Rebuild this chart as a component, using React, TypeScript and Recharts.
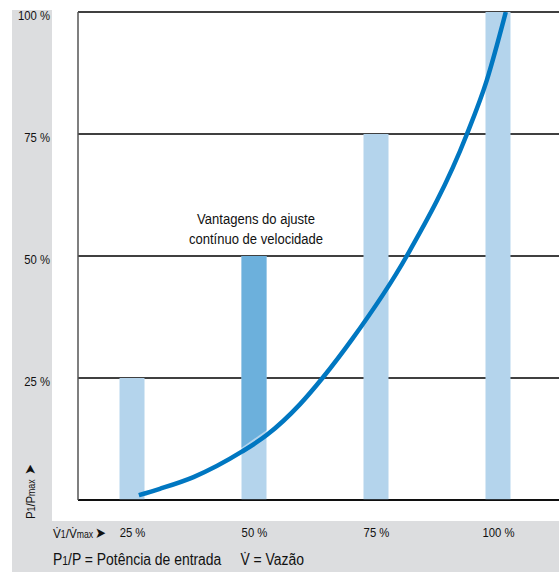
import React from 'react';
import {
  ComposedChart,
  Bar,
  Line,
  XAxis,
  YAxis,
  CartesianGrid,
} from 'recharts';

// Flow steps (V1/Vmax, %) and the power demand drawn as bars (P1/Pmax, %)
const flowSteps = [25, 50, 75, 100];
const barPower = [25, 50, 75, 100];
// Curve power at the left / right edge of the highlighted bar (floor of the saving area)
const savingFloorLeft = [0, 10.7, 0, 0];
const savingFloorRight = [0, 14.3, 0, 0];
// Which step shows the saving of continuous speed control
const highlighted = [false, true, false, false];

// Power curve with continuous speed adjustment: flow % -> power %
const curveFlow = [26.3, 30.6, 37.5, 47.4, 52.5, 59.3, 64.1, 69.9, 81.2, 93.5, 97.6, 101.5];
const curvePower = [1.0, 2.3, 4.7, 9.9, 13.3, 19.6, 25.2, 32.8, 50, 74.9, 86, 100];

const yTicks = [25, 50, 75, 100];
const xTicks = [25, 50, 75, 100];
const flowDomain: [number, number] = [13.83, 112.4];

const barData = flowSteps.map((f, i) => ({
  flow: f,
  power: barPower[i],
  highlighted: highlighted[i],
  floorL: savingFloorLeft[i],
  floorR: savingFloorRight[i],
}));

const curveData = curveFlow.map((f, i) => ({ flow: f, power: curvePower[i] }));

const FONT = "'Liberation Sans', Arial, sans-serif";
const SQUEEZE = 0.87; // horizontal squeeze for a condensed look
const GREY = '#dcdddf';
const LIGHT = '#b4d4ec';
const DARK = '#6cb0dc';
const CURVE = '#0077c1';
const INK = '#111';

const pct = (v: number) => `${v} %`;

// Bar shape: light column; the highlighted one gets the saving area above the curve in a darker tone
function PowerBar(props: any) {
  const { x, y, width, height, payload } = props;
  if (!(height > 0)) return null;
  const rect = <rect x={x} y={y} width={width} height={height} fill={LIGHT} />;
  if (!payload.highlighted) return rect;
  const pxPerUnit = height / payload.power;
  const bottom = y + height;
  const yl = bottom - payload.floorL * pxPerUnit;
  const yr = bottom - payload.floorR * pxPerUnit;
  return (
    <g>
      {rect}
      <polygon points={`${x},${y} ${x + width},${y} ${x + width},${yr} ${x},${yl}`} fill={DARK} />
    </g>
  );
}

function XTick(props: any) {
  const { x, y, payload } = props;
  return (
    <text
      transform={`translate(${x},${y + 37}) scale(${SQUEEZE},1)`}
      textAnchor="middle"
      fontSize={13}
      fontFamily={FONT}
      fill={INK}
    >
      {pct(payload.value)}
    </text>
  );
}

function YTick(props: any) {
  const { x, y, payload } = props;
  return (
    <text
      transform={`translate(${x - 28},${y + 8}) scale(${SQUEEZE},1)`}
      textAnchor="end"
      fontSize={13}
      fontFamily={FONT}
      fill={INK}
    >
      {pct(payload.value)}
    </text>
  );
}

function Squeezed({ x, y, anchor = 'start', size, rotate = 0, children }: any) {
  return (
    <text
      transform={`translate(${x},${y}) rotate(${rotate}) scale(${SQUEEZE},1)`}
      textAnchor={anchor}
      fontSize={size}
      fontFamily={FONT}
      fill={INK}
    >
      {children}
    </text>
  );
}

export default function App() {
  return (
    <div style={{ position: 'absolute', left: 0, top: 0, width: 559, height: 572, background: '#fff' }}>
      {/* grey frame along the left and bottom */}
      <div style={{ position: 'absolute', left: 12, top: 10, width: 40, height: 562, background: GREY }} />
      <div style={{ position: 'absolute', left: 12, top: 521, width: 547, height: 51, background: GREY }} />
      <div style={{ position: 'absolute', left: 0, top: 0 }}>
        <ComposedChart
          width={559}
          height={572}
          data={barData}
          margin={{ top: 12, right: 0, left: 12, bottom: 42 }}
        >
          <CartesianGrid vertical={false} stroke="#000" strokeWidth={1.3} />
          <XAxis
            dataKey="flow"
            type="number"
            domain={flowDomain}
            allowDataOverflow
            ticks={xTicks}
            height={30}
            tickLine={false}
            tickSize={0}
            tickMargin={0}
            axisLine={{ stroke: '#000', strokeWidth: 1.5 }}
            tick={<XTick />}
          />
          {/* separate flow axis for the curve so its dense points don't narrow the bars */}
          <XAxis
            xAxisId="curve"
            dataKey="flow"
            type="number"
            domain={flowDomain}
            allowDataOverflow
            hide
          />
          <YAxis
            type="number"
            domain={[0, 100]}
            allowDataOverflow
            ticks={yTicks}
            width={66}
            tickLine={false}
            tickSize={0}
            tickMargin={0}
            axisLine={{ stroke: '#555', strokeWidth: 1.5 }}
            tick={<YTick />}
          />
          <Bar dataKey="power" fill={LIGHT} barSize={25} shape={<PowerBar />} isAnimationActive={false} />
          <Line
            xAxisId="curve"
            data={curveData}
            dataKey="power"
            type="monotone"
            stroke={CURVE}
            strokeWidth={4.5}
            dot={false}
            activeDot={false}
            isAnimationActive={false}
          />
        </ComposedChart>
      </div>
      {/* annotation, axis names and legend */}
      <svg width={559} height={572} style={{ position: 'absolute', left: 0, top: 0, pointerEvents: 'none' }}>
        <Squeezed x={256} y={224} size={15} anchor="middle">Vantagens do ajuste</Squeezed>
        <Squeezed x={256} y={244} size={15} anchor="middle">contínuo de velocidade</Squeezed>
        <Squeezed x={53} y={538} size={13.5}>
          V̇<tspan fontSize={10}>1</tspan>/V̇<tspan fontSize={10}>max</tspan>
          <tspan dx={2} fontSize={15}>➤</tspan>
        </Squeezed>
        <Squeezed x={53} y={565} size={16}>
          P<tspan fontSize={12}>1</tspan>/P = Potência de entrada
          <tspan dx={22}>V̇ = Vazão</tspan>
        </Squeezed>
        <Squeezed x={35} y={519} size={13} rotate={-90}>
          P<tspan fontSize={10}>1</tspan>/P<tspan fontSize={10}>max</tspan>
          <tspan dx={5} fontSize={15}>➤</tspan>
        </Squeezed>
      </svg>
    </div>
  );
}
